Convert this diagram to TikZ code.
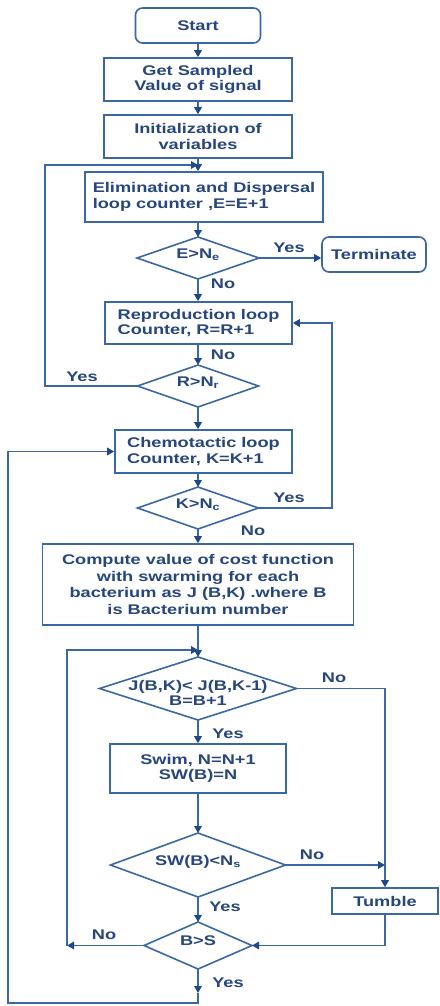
\documentclass[tikz,border=0pt]{standalone}
\usepackage{fontspec}
\setmainfont{Liberation Sans}[FakeStretch=1.3]
\usetikzlibrary{shapes.geometric,arrows.meta}
\definecolor{ln}{RGB}{58,104,166}
\definecolor{tx}{RGB}{38,70,125}
\definecolor{ah}{RGB}{30,72,135}
\begin{document}
\begin{tikzpicture}[x=1pt,y=-1pt,
  font=\fontsize{14}{15.5}\selectfont\bfseries,
  every node/.style={text=tx},
  box/.style={draw=ln,line width=1.6pt,rectangle,inner sep=0pt,align=center},
  rbox/.style={box,rounded corners=7pt},
  dia/.style={draw=ln,line width=1.6pt,diamond,inner sep=0pt,outer sep=0pt},
  con/.style={draw=ln,line width=1.6pt},
  arr/.style={con,-{Triangle[length=7pt,width=7.5pt,color=ah]}},
  lab/.style={inner sep=0pt}
]
\fill[white] (0,0) rectangle (439,1006);
\useasboundingbox (0,0) rectangle (439,1006);

\node[rbox,minimum width=125pt,minimum height=35pt] (start) at (198,25.5) {Start};
\node[box,minimum width=188pt,minimum height=43pt] (get) at (198,79.5) {Get Sampled\\Value of signal};
\node[box,minimum width=188pt,minimum height=43pt] (init) at (198,136.5) {Initialization of\\variables};
\node[box,align=left,minimum width=238pt,minimum height=50pt] (elim) at (204,197) {Elimination and Dispersal\\loop counter ,E=E+1};
\node[dia,minimum width=122pt,minimum height=42pt] (d1) at (198,258) {\smash{\makebox[0pt]{E>N\textsubscript{e}}}};
\node[rbox,minimum width=104pt,minimum height=35pt] (term) at (374,254.5) {Terminate};
\node[box,align=left,minimum width=187pt,minimum height=42pt] (repro) at (198.5,323) {Reproduction loop\\Counter, R=R+1};
\node[dia,minimum width=121pt,minimum height=42pt] (d2) at (198,386) {\smash{\makebox[0pt]{R>N\textsubscript{r}}}};
\node[box,align=left,minimum width=177pt,minimum height=43pt] (chem) at (203.5,451.5) {Chemotactic loop\\Counter, K=K+1};
\node[dia,minimum width=121pt,minimum height=42pt] (d3) at (198,508) {\smash{\makebox[0pt]{K>N\textsubscript{c}}}};
\node[box,minimum width=311pt,minimum height=81pt,font=\fontsize{14}{16.5}\selectfont\bfseries] (comp) at (198,584.5) {Compute value of cost function\\with swarming for each\\bacterium as J (B,K) .where B\\is Bacterium number};
\node[dia,minimum width=197pt,minimum height=63pt] (d4) at (198,688.5) {\smash{\makebox[0pt]{\raisebox{-10pt}{\begin{tabular}{@{}c@{}}J(B,K)< J(B,K-1)\\[-1pt]B=B+1\end{tabular}}}}};
\node[box,minimum width=176pt,minimum height=49pt] (swim) at (198,768.5) {Swim, N=N+1\\SW(B)=N};
\node[dia,minimum width=175pt,minimum height=64pt] (d5) at (198,865) {\smash{\makebox[0pt]{SW(B)<N\textsubscript{s}}}};
\node[box,minimum width=106pt,minimum height=26pt] (tumble) at (385,901) {Tumble};
\node[dia,minimum width=108pt,minimum height=47pt] (d6) at (198,945.5) {\smash{\makebox[0pt]{B>S}}};

% main flow
\draw[arr] (start.south) -- (get.north);
\draw[arr] (get.south) -- (init.north);
\draw[arr] (init.south) -- (init.south |- elim.north);
\draw[arr] (d1.north |- elim.south) -- (d1.north);
\draw[arr] (d1.east) -- (d1.east -| term.west);
\draw[arr] (d1.south) -- (d1.south |- repro.north);
\draw[arr] (d2.north |- repro.south) -- (d2.north);
\draw[arr] (d2.south) -- (d2.south |- chem.north);
\draw[arr] (d3.north |- chem.south) -- (d3.north);
\draw[arr] (d3.south) -- (comp.north);
\draw[arr] (comp.south) -- (d4.north);
\draw[arr] (d4.south) -- (swim.north);
\draw[arr] (swim.south) -- (d5.north);
\draw[arr] (d5.south) -- (d6.north);

% elimination-dispersal loop
\coordinate (lpA) at (45,165);
\coordinate (jA) at (198,165);
\draw[arr] (d2.west) -| (lpA) -- (jA);

% reproduction loop
\coordinate (rx) at (332,323);
\draw[arr] (d3.east) -| (rx) -- (repro.east);

% chemotactic loop
\coordinate (kA) at (198,993);
\coordinate (kB) at (198,1003);
\coordinate (kC) at (8,1003);
\coordinate (kD) at (8,451.5);
\draw[arr] (d6.south) -- (kA);
\draw[arr] (kA) -- (kB) -- (kC) -- (kD) -- (chem.west);

% bacterium loop
\coordinate (bA) at (67,945.5);
\coordinate (bB) at (67,650);
\coordinate (bJ) at (198,650);
\draw[arr] (d6.west) -- (bA);
\draw[arr] (bA) -- (bB) -- (bJ);

% tumble branch
\draw[arr] (d4.east) -| (tumble.north);
\draw[arr] (d5.east) -- (d5.east -| tumble.north);
\draw[arr] (tumble.south) |- (d6.east);

% labels
\node[lab] (y1) at (289,248) {Yes};
\node[lab] (n1) at (223,284) {No};
\node[lab] (n2) at (223,355) {No};
\node[lab] (y2) at (82,377) {Yes};
\node[lab] (y3) at (289,498) {Yes};
\node[lab] (n3) at (253,531) {No};
\node[lab] (n4) at (334,678) {No};
\node[lab] (y4) at (228,734) {Yes};
\node[lab] (n5) at (312,855) {No};
\node[lab] (y5) at (225,907) {Yes};
\node[lab] (n6) at (104,935) {No};
\node[lab] (y6) at (228,983) {Yes};
\end{tikzpicture}
\end{document}
